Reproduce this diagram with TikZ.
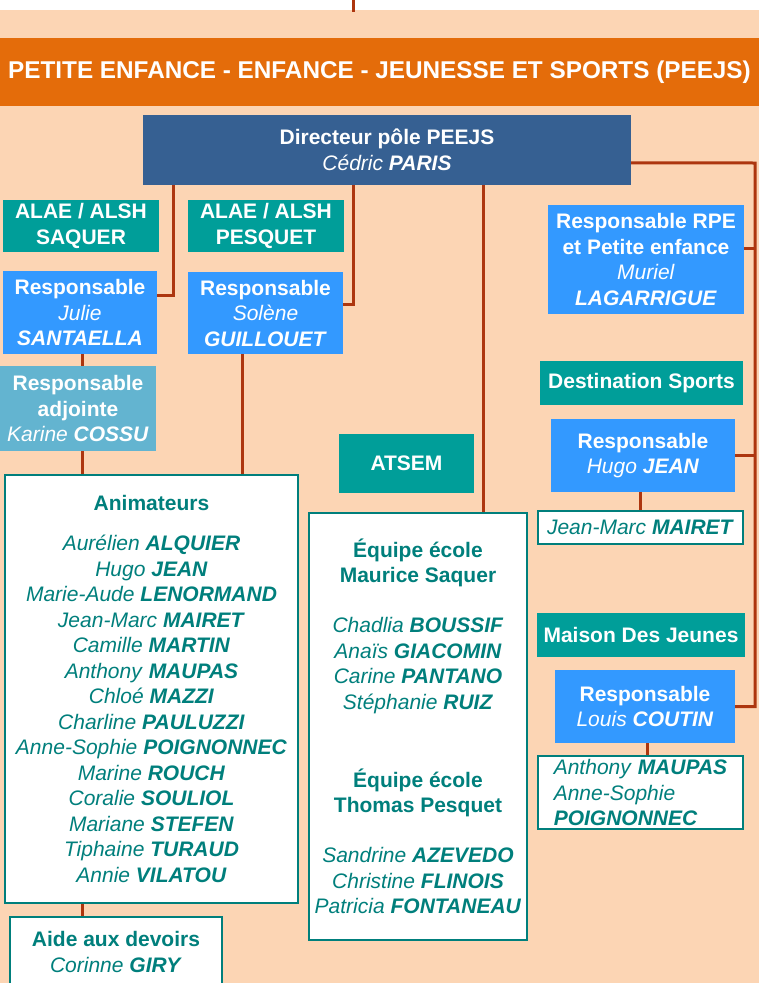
\documentclass[tikz,border=0pt]{standalone}
\usepackage{fontspec}
\setmainfont{Liberation Sans}
\usetikzlibrary{calc}
\definecolor{bg}{HTML}{FCD5B4}
\definecolor{band}{HTML}{E46C0A}
\definecolor{dirblue}{HTML}{366092}
\definecolor{teal}{HTML}{009E99}
\definecolor{bblue}{HTML}{3399FF}
\definecolor{lblue}{HTML}{63B4D0}
\definecolor{tealtext}{HTML}{007F7C}
\definecolor{conn}{HTML}{AD360F}
\newcommand\nm[2]{\textit{#1} \textbf{\textit{#2}}}
\begin{document}
\begin{tikzpicture}[x=1pt,y=-1pt,
  every node/.style={font=\fontsize{21}{25.5}\selectfont, inner sep=0pt, align=center},
  sz/.style 2 args={minimum width=#1, minimum height=#2},
  colbox/.style={fill=#1, text=white},
  whitebox/.style={fill=white, draw=tealtext, line width=1.5pt, text=tealtext},
  connector/.style={draw=conn, line width=3pt}]
\useasboundingbox (0,0) rectangle (759,983);
\fill[white] (0,0) rectangle (759,10);
\fill[bg] (0,10) rectangle (759,983);

% nodes
\node[colbox=band, sz={759}{68}, font=\bfseries\fontsize{24.3}{28}\selectfont] (band) at (379.5,72)
  {PETITE ENFANCE - ENFANCE - JEUNESSE ET SPORTS (PEEJS)};
\node[colbox=dirblue, sz={488}{70}] (dir) at (387,150)
  {\textbf{Directeur pôle PEEJS}\\\nm{Cédric}{PARIS}};
\node[colbox=teal, sz={156}{52}] (alae1) at (81,226) {\textbf{ALAE / ALSH}\\\textbf{SAQUER}};
\node[colbox=teal, sz={156}{52}] (alae2) at (266,226) {\textbf{ALAE / ALSH}\\\textbf{PESQUET}};
\node[colbox=bblue, sz={154}{83}] (resp1) at (80,312.5)
  {\textbf{Responsable}\\\textit{Julie}\\\textbf{\textit{SANTAELLA}}};
\node[colbox=bblue, sz={155}{82}] (resp2) at (265.5,313)
  {\textbf{Responsable}\\\textit{Solène}\\\textbf{\textit{GUILLOUET}}};
\node[colbox=lblue, sz={156}{85}] (adj) at (78,408.5)
  {\textbf{Responsable}\\\textbf{adjointe}\\\nm{Karine}{COSSU}};
\node[whitebox, sz={293}{428}] (anim) at (151.5,689)
  {\textbf{Animateurs}\\[14.5pt]
   \nm{Aurélien}{ALQUIER}\\
   \nm{Hugo}{JEAN}\\
   \nm{Marie-Aude}{LENORMAND}\\
   \nm{Jean-Marc}{MAIRET}\\
   \nm{Camille}{MARTIN}\\
   \nm{Anthony}{MAUPAS}\\
   \nm{Chloé}{MAZZI}\\
   \nm{Charline}{PAULUZZI}\\
   \nm{Anne-Sophie}{POIGNONNEC}\\
   \nm{Marine}{ROUCH}\\
   \nm{Coralie}{SOULIOL}\\
   \nm{Mariane}{STEFEN}\\
   \nm{Tiphaine}{TURAUD}\\
   \nm{Annie}{VILATOU}};
\node[whitebox, sz={212}{70}] (aide) at (116,952)
  {\textbf{Aide aux devoirs}\\\nm{Corinne}{GIRY}};
\node[colbox=teal, sz={135}{59}] (atsem) at (406.5,463.5) {\textbf{ATSEM}};
\node[whitebox, sz={218}{427}] (eq) at (418,726.5)
  {\textbf{Équipe école}\\\textbf{Maurice Saquer}\\[24.5pt]
   \nm{Chadlia}{BOUSSIF}\\
   \nm{Anaïs}{GIACOMIN}\\
   \nm{Carine}{PANTANO}\\
   \nm{Stéphanie}{RUIZ}\\[52.5pt]
   \textbf{Équipe école}\\\textbf{Thomas Pesquet}\\[24.5pt]
   \nm{Sandrine}{AZEVEDO}\\
   \nm{Christine}{FLINOIS}\\
   \nm{Patricia}{FONTANEAU}};
\node[colbox=bblue, sz={196}{109}] (rpe) at (646,259.5)
  {\textbf{Responsable RPE}\\\textbf{et Petite enfance}\\\textit{Muriel}\\\textbf{\textit{LAGARRIGUE}}};
\node[colbox=teal, sz={203}{44}] (dest) at (641.5,383) {\textbf{Destination Sports}};
\node[colbox=bblue, sz={184}{73}] (hugo) at (643,455.5)
  {\textbf{Responsable}\\\nm{Hugo}{JEAN}};
\node[whitebox, sz={205}{33}] (jm) at (640.5,527.5) {\nm{Jean-Marc}{MAIRET}};
\node[colbox=teal, sz={208}{44}] (mdj) at (641,635) {\textbf{Maison Des Jeunes}};
\node[colbox=bblue, sz={180}{73}] (louis) at (645,706.5)
  {\textbf{Responsable}\\\nm{Louis}{COUTIN}};
\node[whitebox, sz={205}{73}, align=left] (maup) at (640.5,792.5)
  {\nm{Anthony}{MAUPAS}\\\textit{Anne-Sophie}\\\textbf{\textit{POIGNONNEC}}};

% connectors
\coordinate (topA) at (353,0);
\coordinate (topB) at (353,12);
\draw[connector] (topA) -- (topB);

\coordinate (d1) at ($(dir.south west)+(31,0)$);
\coordinate (r1) at ($(resp1.north east)+(0,25)$);
\draw[connector] (d1) |- (r1);

\coordinate (d2) at ($(dir.south west)+(211,0)$);
\coordinate (r2) at ($(resp2.north east)+(0,33)$);
\draw[connector] (d2) |- (r2);

\coordinate (d3) at ($(dir.south west)+(341,0)$);
\draw[connector] (d3) -- (d3 |- eq.north);

\coordinate (colA) at (82,0);
\draw[connector] (resp1.south -| colA) -- (adj.north -| colA);
\draw[connector] (adj.south -| colA) -- (anim.north -| colA);
\draw[connector] (anim.south -| colA) -- (aide.north -| colA);
\coordinate (colB) at (242,0);
\draw[connector] (resp2.south -| colB) -- (anim.north -| colB);
\coordinate (colC) at (640,0);
\draw[connector] (hugo.south -| colC) -- (jm.north -| colC);
\coordinate (colD) at (647,0);
\draw[connector] (louis.south -| colD) -- (maup.north -| colD);

\coordinate (dR) at ($(dir.north east)+(0,48)$);
\coordinate (busTop) at (755,163);
\coordinate (busBot) at (755,706.5);
\coordinate (rpeR) at ($(rpe.north east)+(0,44)$);
\draw[connector] (dR) -- (busTop) -- (busBot) -- (louis.east);
\draw[connector] (rpeR) -- (rpeR -| busTop);
\draw[connector] (hugo.east) -- (hugo.east -| busTop);
\end{tikzpicture}
\end{document}
